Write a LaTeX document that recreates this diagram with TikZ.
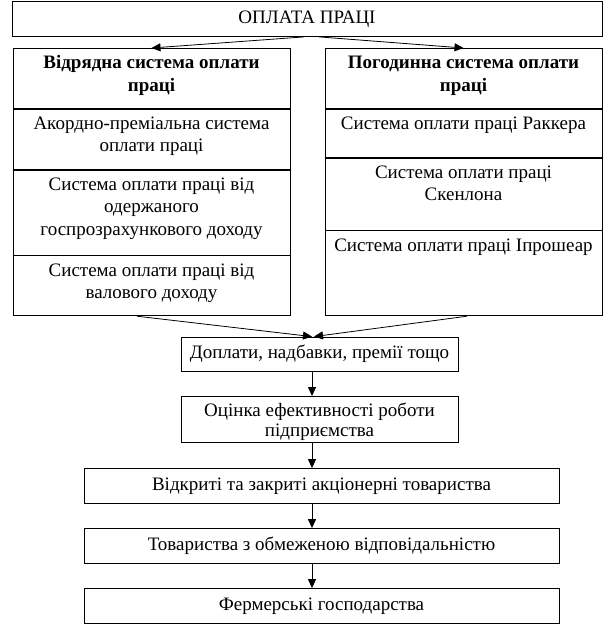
\documentclass[tikz,border=0pt]{standalone}
\usepackage{fontspec}
\setmainfont{Liberation Serif}
\usetikzlibrary{positioning,arrows.meta,calc}
\tikzset{
  box/.style  = {draw, line width=0.8pt, inner sep=0pt, align=center,
                 font=\fontsize{19}{22.5}\selectfont},
  cell/.style = {box, anchor=north},
  arr/.style  = {-{Triangle[length=9pt,width=8pt]}, line width=0.8pt},
}
\newcommand{\celltxt}[2]{\parbox[c][#1][t]{277pt}{\centering\vspace*{4.5pt}\strut #2}}

\begin{document}
\begin{tikzpicture}[x=1pt,y=-1pt]
      \useasboundingbox (0,0) rectangle (612,627);
      \node[box,minimum width=590pt,minimum height=35pt] (top) at (307,19) {ОПЛАТА ПРАЦІ};
      \node[cell] (lt) at (151.5,48) {\celltxt{60pt}{\bfseries Відрядна система оплати\\праці}};
      \node[cell,below=0pt of lt] (l1) {\celltxt{60pt}{Акордно-преміальна система\\оплати праці}};
      \node[cell,below=0pt of l1] (l2) {\celltxt{85pt}{Система оплати праці від\\одержаного\\госпрозрахункового доходу}};
      \node[cell,below=0pt of l2] (l3) {\celltxt{60pt}{Система оплати праці від\\валового доходу}};
      \node[cell] (rt) at (463.5,48) {\celltxt{60pt}{\bfseries Погодинна система оплати\\праці}};
      \node[cell,below=0pt of rt] (r1) {\celltxt{48pt}{Система оплати праці Раккера}};
      \node[cell,below=0pt of r1] (r2) {\celltxt{72pt}{Система оплати праці\\Скенлона}};
      \node[cell,below=0pt of r2] (r3) {\celltxt{85pt}{Система оплати праці Іпрошеар}};
      \node[box,minimum width=277pt,minimum height=34pt] (dop) at (319.5,354) {Доплати, надбавки, премії тощо};
      \node[cell] (ots) at (319.5,396) {\celltxt{46pt}{\fontsize{19}{19.5}\selectfont Оцінка ефективності роботи\\підприємства}};
      \node[box,minimum width=475pt,minimum height=35pt] (vat) at (321.5,486) {Відкриті та закриті акціонерні товариства};
      \node[box,minimum width=475pt,minimum height=35pt] (tov) at (321.5,546) {Товариства з обмеженою відповідальністю};
      \node[box,minimum width=475pt,minimum height=35pt] (fer) at (321.5,606) {Фермерські господарства};
      \coordinate (axis) at (312,0);
      \draw[arr] ([xshift=-3pt]top.south) -- (lt.north);
      \draw[arr] ([xshift=12pt]top.south) -- (rt.north);
      \draw[arr] ([xshift=-14.5pt]l3.south) -- (dop.north -| axis);
      \draw[arr] ([xshift=3.5pt]r3.south) -- ($(dop.north -| axis)+(2pt,0)$);
      \foreach \a/\b in {dop/ots,ots/vat,vat/tov,tov/fer}{
        \draw[arr] (\a.south -| axis) -- (\b.north -| axis);}
    \end{tikzpicture}
\end{document}
